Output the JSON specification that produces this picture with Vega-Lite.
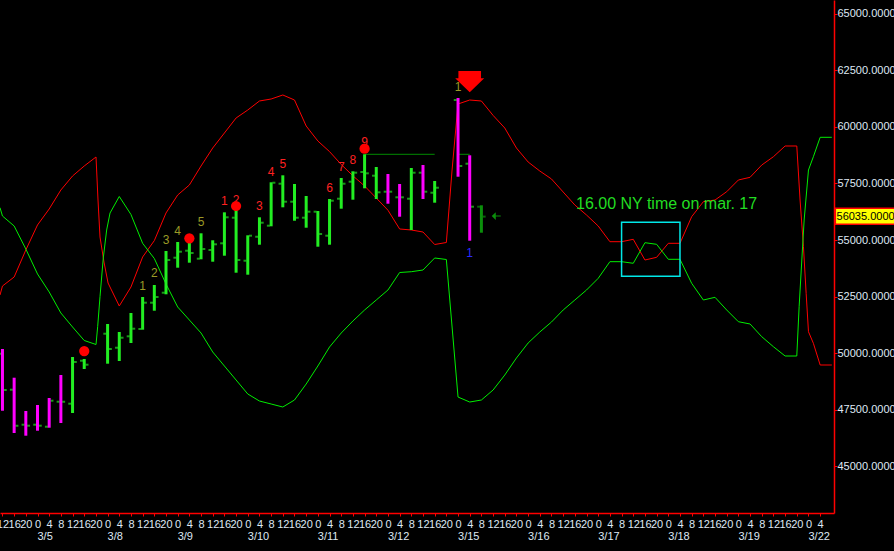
{
"$schema": "https://vega.github.io/schema/vega-lite/v6.json",
"width": 834, "height": 513,
"autosize": {"type": "none"},
"padding": {"left": 0, "top": 0, "right": 60, "bottom": 38},
"background": "#000000",
"config": {"view": {"stroke": null}, "axis": {"grid": false}},
"resolve": {"axis": {"x": "independent"}},
"datasets": {
"bands": [
{"t":-3.21,"v":52572,"band":"red"},{"t":-3,"v":52969,"band":"red"},{"t":-2,"v":53367,"band":"red"},{"t":-1,"v":54560,"band":"red"},{"t":0,"v":55665,"band":"red"},{"t":1,"v":56372,"band":"red"},{"t":2,"v":57211,"band":"red"},{"t":3,"v":57829,"band":"red"},{"t":4,"v":58271,"band":"red"},{"t":5.01,"v":58669,"band":"red"},{"t":5.18,"v":56769,"band":"red"},{"t":5.35,"v":55134,"band":"red"},{"t":5.69,"v":54030,"band":"red"},{"t":6.04,"v":53102,"band":"red"},{"t":7,"v":52086,"band":"red"},{"t":8,"v":52925,"band":"red"},{"t":9,"v":54251,"band":"red"},{"t":10,"v":54975,"band":"red"},{"t":11,"v":56195,"band":"red"},{"t":12,"v":56990,"band":"red"},{"t":13,"v":57432,"band":"red"},{"t":14,"v":58271,"band":"red"},{"t":15,"v":59066,"band":"red"},{"t":16,"v":59729,"band":"red"},{"t":17,"v":60392,"band":"red"},{"t":18,"v":60745,"band":"red"},{"t":19,"v":61143,"band":"red"},{"t":20,"v":61231,"band":"red"},{"t":21,"v":61408,"band":"red"},{"t":22,"v":61187,"band":"red"},{"t":23,"v":60038,"band":"red"},{"t":24,"v":59376,"band":"red"},{"t":25,"v":58907,"band":"red"},{"t":26,"v":58337,"band":"red"},{"t":27,"v":57838,"band":"red"},{"t":28,"v":57388,"band":"red"},{"t":29,"v":56857,"band":"red"},{"t":30,"v":56318,"band":"red"},{"t":31,"v":55488,"band":"red"},{"t":32,"v":55444,"band":"red"},{"t":33,"v":55355,"band":"red"},{"t":34,"v":54803,"band":"red"},{"t":35,"v":54891,"band":"red"},{"t":35.49,"v":58094,"band":"red"},{"t":36,"v":61010,"band":"red"},{"t":37,"v":61187,"band":"red"},{"t":38,"v":61143,"band":"red"},{"t":39,"v":60507,"band":"red"},{"t":40,"v":59950,"band":"red"},{"t":41,"v":59066,"band":"red"},{"t":42,"v":58448,"band":"red"},{"t":43,"v":58050,"band":"red"},{"t":44,"v":57697,"band":"red"},{"t":45,"v":57123,"band":"red"},{"t":46,"v":56548,"band":"red"},{"t":47,"v":56106,"band":"red"},{"t":48,"v":55620,"band":"red"},{"t":49,"v":54927,"band":"red"},{"t":50,"v":54927,"band":"red"},{"t":51,"v":55033,"band":"red"},{"t":52,"v":54118,"band":"red"},{"t":53,"v":54237,"band":"red"},{"t":54,"v":54856,"band":"red"},{"t":55,"v":54856,"band":"red"},{"t":56,"v":56031,"band":"red"},{"t":57,"v":56694,"band":"red"},{"t":58,"v":56769,"band":"red"},{"t":59,"v":57136,"band":"red"},{"t":60,"v":57653,"band":"red"},{"t":61,"v":57772,"band":"red"},{"t":62,"v":58315,"band":"red"},{"t":63,"v":58682,"band":"red"},{"t":64,"v":59155,"band":"red"},{"t":65,"v":59155,"band":"red"},{"t":65.28,"v":56769,"band":"red"},{"t":65.57,"v":54706,"band":"red"},{"t":65.8,"v":52647,"band":"red"},{"t":66,"v":50950,"band":"red"},{"t":66.42,"v":50438,"band":"red"},{"t":67,"v":49479,"band":"red"},{"t":68,"v":49479,"band":"red"},
{"t":-3.21,"v":56429,"band":"green"},{"t":-3,"v":56062,"band":"green"},{"t":-2,"v":55620,"band":"green"},{"t":-1,"v":54604,"band":"green"},{"t":0,"v":53500,"band":"green"},{"t":1,"v":52705,"band":"green"},{"t":2,"v":51777,"band":"green"},{"t":3,"v":51158,"band":"green"},{"t":4,"v":50562,"band":"green"},{"t":5.01,"v":50385,"band":"green"},{"t":5.15,"v":51172,"band":"green"},{"t":5.35,"v":52497,"band":"green"},{"t":5.63,"v":54207,"band":"green"},{"t":5.92,"v":55444,"band":"green"},{"t":6.21,"v":56195,"band":"green"},{"t":7,"v":56924,"band":"green"},{"t":8,"v":56128,"band":"green"},{"t":9,"v":54856,"band":"green"},{"t":10,"v":54184,"band":"green"},{"t":11,"v":53058,"band":"green"},{"t":12,"v":52042,"band":"green"},{"t":13,"v":51467,"band":"green"},{"t":14,"v":50893,"band":"green"},{"t":15,"v":50054,"band":"green"},{"t":16,"v":49435,"band":"green"},{"t":17,"v":48817,"band":"green"},{"t":18,"v":48198,"band":"green"},{"t":19,"v":47889,"band":"green"},{"t":20,"v":47756,"band":"green"},{"t":21,"v":47624,"band":"green"},{"t":22,"v":47933,"band":"green"},{"t":23,"v":48640,"band":"green"},{"t":24,"v":49435,"band":"green"},{"t":25,"v":50275,"band":"green"},{"t":26,"v":50893,"band":"green"},{"t":27,"v":51423,"band":"green"},{"t":28,"v":51909,"band":"green"},{"t":29,"v":52351,"band":"green"},{"t":30,"v":52793,"band":"green"},{"t":31,"v":53566,"band":"green"},{"t":32,"v":53601,"band":"green"},{"t":33,"v":53676,"band":"green"},{"t":34,"v":54207,"band":"green"},{"t":35,"v":54141,"band":"green"},{"t":36,"v":48065,"band":"green"},{"t":37,"v":47844,"band":"green"},{"t":38,"v":47933,"band":"green"},{"t":39,"v":48375,"band":"green"},{"t":40,"v":49037,"band":"green"},{"t":41,"v":49789,"band":"green"},{"t":42,"v":50451,"band":"green"},{"t":43,"v":50937,"band":"green"},{"t":44,"v":51379,"band":"green"},{"t":45,"v":51909,"band":"green"},{"t":46,"v":52351,"band":"green"},{"t":47,"v":52793,"band":"green"},{"t":48,"v":53310,"band":"green"},{"t":49,"v":54044,"band":"green"},{"t":50,"v":54044,"band":"green"},{"t":51,"v":53973,"band":"green"},{"t":52,"v":54883,"band":"green"},{"t":53,"v":54812,"band":"green"},{"t":54,"v":54149,"band":"green"},{"t":55,"v":54149,"band":"green"},{"t":56,"v":53089,"band":"green"},{"t":57,"v":52351,"band":"green"},{"t":58,"v":52470,"band":"green"},{"t":59,"v":51909,"band":"green"},{"t":60,"v":51392,"band":"green"},{"t":61,"v":51291,"band":"green"},{"t":62,"v":50729,"band":"green"},{"t":63,"v":50287,"band":"green"},{"t":64,"v":49877,"band":"green"},{"t":65,"v":49877,"band":"green"},{"t":65.2,"v":52055,"band":"green"},{"t":65.43,"v":54118,"band":"green"},{"t":65.63,"v":55885,"band":"green"},{"t":66,"v":58094,"band":"green"},{"t":66.42,"v":58682,"band":"green"},{"t":67,"v":59539,"band":"green"},{"t":68,"v":59539,"band":"green"}
],
"bars": [
{"t":-3,"high":50186,"low":47460,"open":49979,"close":48375,"kind":"down"},
{"t":-2,"high":48918,"low":46475,"open":48388,"close":46798,"kind":"down"},
{"t":-1,"high":47447,"low":46356,"open":46842,"close":46798,"kind":"down"},
{"t":0,"high":47712,"low":46577,"open":46842,"close":46798,"kind":"down"},
{"t":1,"high":48021,"low":46709,"open":46753,"close":47902,"kind":"down"},
{"t":2,"high":49037,"low":46917,"open":47858,"close":47858,"kind":"down"},
{"t":3,"high":49833,"low":47359,"open":47770,"close":49612,"kind":"up"},
{"t":4,"high":49744,"low":49303,"open":49669,"close":49493,"kind":"up"},
{"t":6,"high":51291,"low":49537,"open":50862,"close":50186,"kind":"up"},
{"t":7,"high":50937,"low":49656,"open":50243,"close":50685,"kind":"up"},
{"t":8,"high":51777,"low":50451,"open":50747,"close":51083,"kind":"up"},
{"t":9,"high":52484,"low":51039,"open":51070,"close":52232,"kind":"up"},
{"t":10,"high":53014,"low":51878,"open":52232,"close":52484,"kind":"up"},
{"t":11,"high":54516,"low":52603,"open":52673,"close":54118,"kind":"up"},
{"t":12,"high":54913,"low":53778,"open":54220,"close":54485,"kind":"up"},
{"t":13,"high":54869,"low":53999,"open":54529,"close":54427,"kind":"up"},
{"t":14,"high":55298,"low":54149,"open":54176,"close":54604,"kind":"up"},
{"t":15,"high":54989,"low":54043,"open":54560,"close":54812,"kind":"up"},
{"t":16,"high":56225,"low":54308,"open":54856,"close":56005,"kind":"up"},
{"t":17,"high":56327,"low":53557,"open":55987,"close":54118,"kind":"up"},
{"t":18,"high":55209,"low":53469,"open":54087,"close":55192,"kind":"up"},
{"t":19,"high":56005,"low":54794,"open":55148,"close":55766,"kind":"up"},
{"t":20,"high":57551,"low":55607,"open":55634,"close":57533,"kind":"up"},
{"t":21,"high":57860,"low":56446,"open":57489,"close":56694,"kind":"up"},
{"t":22,"high":57476,"low":55854,"open":56694,"close":55987,"kind":"up"},
{"t":23,"high":56946,"low":55545,"open":55987,"close":56252,"kind":"up"},
{"t":24,"high":56283,"low":54706,"open":56252,"close":55267,"kind":"up"},
{"t":25,"high":56813,"low":54794,"open":55192,"close":56738,"kind":"up"},
{"t":26,"high":57741,"low":56385,"open":56826,"close":57489,"kind":"up"},
{"t":27,"high":58037,"low":56782,"open":57578,"close":57975,"kind":"up"},
{"t":28,"high":58788,"low":57286,"open":58006,"close":57948,"kind":"up"},
{"t":29,"high":58227,"low":56813,"open":57843,"close":57109,"kind":"up"},
{"t":30,"high":57918,"low":56605,"open":57136,"close":57136,"kind":"down"},
{"t":31,"high":57476,"low":56031,"open":56888,"close":56888,"kind":"down"},
{"t":32,"high":58183,"low":55444,"open":56826,"close":57975,"kind":"up"},
{"t":33,"high":58315,"low":56813,"open":57975,"close":57136,"kind":"down"},
{"t":34,"high":57608,"low":56650,"open":57091,"close":57312,"kind":"up"},
{"t":36,"high":61275,"low":57798,"open":61187,"close":58271,"kind":"down"},
{"t":37,"high":58744,"low":54971,"open":58373,"close":56473,"kind":"down"},
{"t":38,"high":56535,"low":55324,"open":56473,"close":56035,"kind":"live"}
],
"labels": [
{"t":9,"v":52969,"txt":"1","kind":"olive"},{"t":10,"v":53522,"txt":"2","kind":"olive"},{"t":11,"v":55002,"txt":"3","kind":"olive"},{"t":12,"v":55413,"txt":"4","kind":"olive"},{"t":14,"v":55810,"txt":"5","kind":"olive"},{"t":36,"v":61775,"txt":"1","kind":"olive"},
{"t":16,"v":56703,"txt":"1","kind":"red"},{"t":17,"v":56769,"txt":"2","kind":"red"},{"t":19,"v":56517,"txt":"3","kind":"red"},{"t":20,"v":58019,"txt":"4","kind":"red"},{"t":21,"v":58381,"txt":"5","kind":"red"},{"t":25,"v":57286,"txt":"6","kind":"red"},{"t":26,"v":58240,"txt":"7","kind":"red"},{"t":27,"v":58536,"txt":"8","kind":"red"},{"t":28,"v":59345,"txt":"9","kind":"red"},
{"t":37,"v":54414,"txt":"1","kind":"blue"}
],
"days": [
{"t":0,"v":41894,"txt":"3/5"},{"t":6,"v":41894,"txt":"3/8"},{"t":12,"v":41894,"txt":"3/9"},{"t":18,"v":41894,"txt":"3/10"},{"t":24,"v":41894,"txt":"3/11"},{"t":30,"v":41894,"txt":"3/12"},{"t":36,"v":41894,"txt":"3/15"},{"t":42,"v":41894,"txt":"3/16"},{"t":48,"v":41894,"txt":"3/17"},{"t":54,"v":41894,"txt":"3/18"},{"t":60,"v":41894,"txt":"3/19"},{"t":66,"v":41894,"txt":"3/22"}
],
"dots": [{"t":4,"v":50096},{"t":13,"v":55077},{"t":17,"v":56504},{"t":28,"v":59035}],
"level": [{"t":28,"v":58788,"seg":"a"},{"t":34,"v":58788,"seg":"a"},{"t":36,"v":58788,"seg":"b"},{"t":37,"v":58788,"seg":"b"}],
"box": [{"t1":50,"t2":55,"v1":53398,"v2":55784}],
"sell": [{"t":37,"v":62005}],
"now": [{"t":39.27,"v":56060}],
"note": [{"t":46.1,"v":56358,"txt":"16.00 NY time on mar. 17"}],
"tag": [{"t1":68.3,"t2":74,"v1":55700,"v2":56400,"t":68.4,"v":56035,"txt":"56035.0000"}]
},
"layer": [
{"data": {"name": "bands"}, "transform": [{"filter": "datum.band === 'red'"}],
 "mark": {"type": "line", "color": "#ff0000", "strokeWidth": 1, "clip": true},
 "encoding": {
  "x": {"field": "t", "type": "quantitative", "scale": {"domain": [-3.2106, 68.1849], "nice": false, "zero": false},
        "axis": {"orient": "bottom", "title": null, "values": [-3,-2,-1,0,1,2,3,4,5,6,7,8,9,10,11,12,13,14,15,16,17,18,19,20,21,22,23,24,25,26,27,28,29,30,31,32,33,34,35,36,37,38,39,40,41,42,43,44,45,46,47,48,49,50,51,52,53,54,55,56,57,58,59,60,61,62,63,64,65,66,67],
                 "labelExpr": "['0','4','8','12','16','20'][((datum.value % 6) + 6) % 6]",
                 "labelOverlap": false, "labelFlush": false, "labelBound": false,
                 "labelColor": "#dfe8f4", "labelFont": "Liberation Sans", "labelFontSize": 11, "labelPadding": 2,
                 "tickColor": "#ff0000", "tickSize": 3, "domainColor": "#ff0000", "domainWidth": 1.5, "grid": false}},
  "y": {"field": "v", "type": "quantitative", "scale": {"domain": [42941, 65605], "nice": false, "zero": false},
        "axis": {"orient": "right", "title": null, "values": [45000,47500,50000,52500,55000,57500,60000,62500,65000], "format": ".4f",
                 "labelColor": "#dfe8f4", "labelFont": "Liberation Sans", "labelFontSize": 11, "labelPadding": 0,
                 "labelOverlap": false, "labelFlush": false, "labelBound": false,
                 "tickColor": "#ff0000", "tickSize": 3, "domainColor": "#ff0000", "domainWidth": 1.5, "grid": false}}
 }},
{"data": {"name": "bands"}, "transform": [{"filter": "datum.band === 'green'"}],
 "mark": {"type": "line", "color": "#00ee00", "strokeWidth": 1, "clip": true},
 "encoding": {
  "x": {"field": "t", "type": "quantitative", "axis": null},
  "y": {"field": "v", "type": "quantitative"}
 }},
{"data": {"name": "level"},
 "mark": {"type": "line", "color": "#008a00", "strokeWidth": 1},
 "encoding": {
  "x": {"field": "t", "type": "quantitative", "axis": null},
  "y": {"field": "v", "type": "quantitative"},
  "detail": {"field": "seg", "type": "nominal"}
 }},
{"data": {"name": "box"},
 "mark": {"type": "rect", "fill": null, "fillOpacity": 0, "stroke": "#00e8e8", "strokeWidth": 1.5},
 "encoding": {
  "x": {"field": "t1", "type": "quantitative", "axis": null},
  "x2": {"field": "t2"},
  "y": {"field": "v1", "type": "quantitative"},
  "y2": {"field": "v2"}
 }},
{"data": {"name": "bars"},
 "mark": {"type": "tick", "orient": "horizontal", "size": 3, "thickness": 2, "xOffset": -2.75},
 "encoding": {
  "x": {"field": "t", "type": "quantitative", "axis": null},
  "y": {"field": "open", "type": "quantitative"},
  "color": {"condition": {"test": "datum.kind === 'live'", "value": "#0b8f0b"}, "value": "#22dd22"}
 }},
{"data": {"name": "bars"},
 "mark": {"type": "tick", "orient": "horizontal", "size": 3, "thickness": 2, "xOffset": 2.75},
 "encoding": {
  "x": {"field": "t", "type": "quantitative", "axis": null},
  "y": {"field": "close", "type": "quantitative"},
  "color": {"condition": {"test": "datum.kind === 'live'", "value": "#0b8f0b"}, "value": "#22dd22"}
 }},
{"data": {"name": "bars"},
 "mark": {"type": "rule", "strokeWidth": 3, "strokeCap": "butt"},
 "encoding": {
  "x": {"field": "t", "type": "quantitative", "axis": null},
  "y": {"field": "high", "type": "quantitative"},
  "y2": {"field": "low"},
  "color": {"condition": [{"test": "datum.kind === 'down'", "value": "#ff00ff"}, {"test": "datum.kind === 'live'", "value": "#0b8f0b"}], "value": "#22ee22"}
 }},
{"data": {"name": "labels"},
 "mark": {"type": "text", "font": "Liberation Sans", "fontSize": 12, "align": "center", "baseline": "middle"},
 "encoding": {
  "x": {"field": "t", "type": "quantitative", "axis": null},
  "y": {"field": "v", "type": "quantitative"},
  "text": {"field": "txt"},
  "color": {"condition": [{"test": "datum.kind === 'olive'", "value": "#9a9a26"}, {"test": "datum.kind === 'blue'", "value": "#2a2aff"}], "value": "#ff2020"}
 }},
{"data": {"name": "days"},
 "mark": {"type": "text", "font": "Liberation Sans", "fontSize": 11, "align": "left", "baseline": "middle", "color": "#dfe8f4", "clip": false},
 "encoding": {
  "x": {"field": "t", "type": "quantitative", "axis": null},
  "y": {"field": "v", "type": "quantitative"},
  "text": {"field": "txt"}
 }},
{"data": {"name": "dots"},
 "mark": {"type": "point", "shape": "circle", "filled": true, "size": 105, "color": "#ff0000", "opacity": 1, "strokeWidth": 0},
 "encoding": {
  "x": {"field": "t", "type": "quantitative", "axis": null},
  "y": {"field": "v", "type": "quantitative"}
 }},
{"data": {"name": "sell"},
 "mark": {"type": "point", "shape": "M -0.78 -0.72 L 0.78 -0.72 L 0.78 -0.22 L 1 -0.22 L 0 0.74 L -1 -0.22 L -0.78 -0.22 Z", "filled": true, "size": 841, "color": "#ff0000", "opacity": 1, "strokeWidth": 0},
 "encoding": {
  "x": {"field": "t", "type": "quantitative", "axis": null},
  "y": {"field": "v", "type": "quantitative"}
 }},
{"data": {"name": "now"},
 "mark": {"type": "point", "shape": "M -1 0 L -0.1 -0.85 L -0.1 -0.12 L 1 -0.12 L 1 0.12 L -0.1 0.12 L -0.1 0.85 Z", "filled": true, "size": 81, "color": "#0b8f0b", "opacity": 1, "strokeWidth": 0},
 "encoding": {
  "x": {"field": "t", "type": "quantitative", "axis": null},
  "y": {"field": "v", "type": "quantitative"}
 }},
{"data": {"name": "note"},
 "mark": {"type": "text", "font": "Liberation Sans", "fontSize": 16, "align": "left", "baseline": "alphabetic", "color": "#22dd22"},
 "encoding": {
  "x": {"field": "t", "type": "quantitative", "axis": null},
  "y": {"field": "v", "type": "quantitative"},
  "text": {"field": "txt"}
 }},
{"data": {"name": "tag"},
 "mark": {"type": "rect", "fill": "#ffff00", "stroke": "#ff0000", "strokeWidth": 1.5, "clip": false},
 "encoding": {
  "x": {"field": "t1", "type": "quantitative", "axis": null},
  "x2": {"field": "t2"},
  "y": {"field": "v1", "type": "quantitative"},
  "y2": {"field": "v2"}
 }},
{"data": {"name": "tag"},
 "mark": {"type": "text", "font": "Liberation Sans", "fontSize": 11, "align": "left", "baseline": "middle", "color": "#000000"},
 "encoding": {
  "x": {"field": "t", "type": "quantitative", "axis": null},
  "y": {"field": "v", "type": "quantitative"},
  "text": {"field": "txt"}
 }}
]
}
